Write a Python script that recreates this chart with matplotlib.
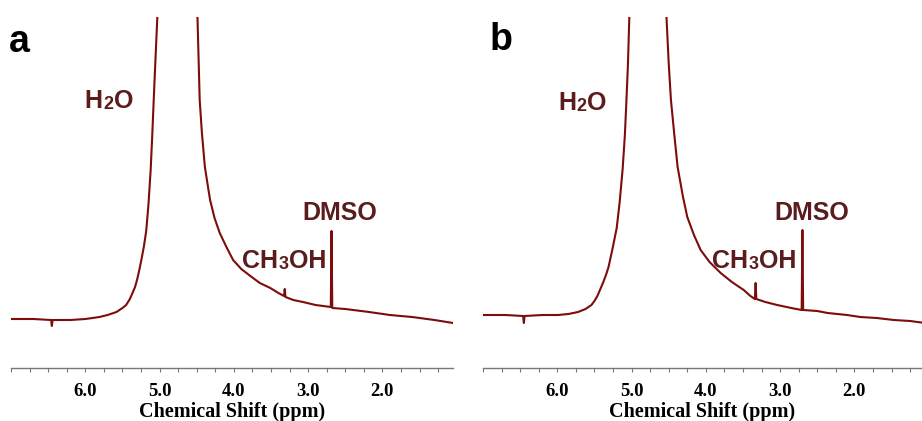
import matplotlib
matplotlib.use("Agg")
import matplotlib.pyplot as plt
from matplotlib.ticker import MultipleLocator

# read-off spectrum points: chemical shift (ppm) and intensity (arb. units, baseline near 50)
ppm_a = [7.00, 6.70, 6.46, 6.45, 6.44, 6.20, 6.00, 5.90, 5.81, 5.70, 5.58, 5.50, 5.45,
         5.40, 5.37, 5.33, 5.30, 5.27, 5.24, 5.21, 5.18, 5.15, 5.12, 5.10, 5.08, 5.055, 5.03,
         4.78,
         4.49, 4.475, 4.46, 4.43, 4.39, 4.35, 4.32, 4.26, 4.19, 4.10, 4.01, 3.90, 3.76,
         3.65, 3.51, 3.40, 3.325, 3.315, 3.305, 3.20, 3.07, 2.90, 2.695, 2.685, 2.675,
         2.50, 2.18, 1.90, 1.60, 1.30, 1.05]
int_a = [49, 49, 48, 42, 48, 48, 49, 50, 51, 53, 56, 60, 63,
         69, 74, 81, 89, 99, 110, 122, 137, 163, 198, 230, 266, 309, 351,
         5000,
         351, 310, 268, 235, 201, 182, 168, 150, 135, 121, 108, 99, 91,
         85, 80, 75, 72, 79, 71, 68, 66, 63, 61, 137, 60,
         59, 56, 53, 51, 48, 45]

ppm_b = [7.00, 6.70, 6.46, 6.45, 6.44, 6.20, 5.99, 5.85, 5.72, 5.62, 5.54, 5.50, 5.46,
         5.42, 5.38, 5.34, 5.31, 5.26, 5.20, 5.16, 5.12, 5.09, 5.07, 5.05, 5.03,
         4.78,
         4.53, 4.50, 4.47, 4.42, 4.38, 4.31, 4.25, 4.16, 4.07, 3.95, 3.80, 3.65, 3.49,
         3.40, 3.34, 3.33, 3.32, 3.20, 3.04, 2.85, 2.71, 2.70, 2.69, 2.50, 2.36, 2.10,
         1.92, 1.70, 1.47, 1.25, 1.05]
int_b = [53, 53, 52, 45, 52, 53, 53, 54, 56, 59, 63, 67, 72,
         79, 86, 94, 101, 118, 140, 166, 199, 233, 266, 301, 351,
         5000,
         351, 305, 268, 230, 201, 172, 151, 133, 118, 106, 95, 86, 78,
         72, 69, 85, 69, 66, 63, 60, 58, 138, 58, 57, 55, 53,
         51, 50, 48, 47, 45]

major_ticks = [6.0, 5.0, 4.0, 3.0, 2.0]
tick_labels = ["6.0", "5.0", "4.0", "3.0", "2.0"]
panel_letters = ["a", "b"]

# label anchors (ppm, intensity) for H2O, CH3OH, DMSO
h2o_pos = [(6.01, 260), (5.99, 258)]
ch3oh_pos = [(3.89, 100), (3.92, 100)]
dmso_pos = [(3.08, 148), (3.08, 148)]

line_color = "#7d0c0c"
text_color = "#5a1c1c"


def chem_label(ax, x, y, parts):
    """Draw a formula like H2O with a smaller digit, piece by piece."""
    prev = None
    for piece, small in parts:
        size = 13 if small else 18
        kw = dict(fontsize=size, fontweight="bold", color=text_color,
                  family="Liberation Sans", va="baseline", ha="left")
        if prev is None:
            prev = ax.text(x, y, piece, **kw)
        else:
            prev = ax.annotate(piece, xy=(1, 0), xycoords=prev,
                               xytext=(0.5, 0), textcoords="offset points",
                               **dict(kw, va="bottom"))
    return prev


fig = plt.figure(figsize=(9.22, 4.21), dpi=100)

ax_a = fig.add_axes([11 / 922, 1 - 368 / 421, 442 / 922, 351 / 421])
ax_b = fig.add_axes([483 / 922, 1 - 368 / 421, 439 / 922, 351 / 421])

panels = [(ax_a, ppm_a, int_a, (7.0, 1.05)), (ax_b, ppm_b, int_b, (7.0, 1.09))]

for i, (ax, x, y, xl) in enumerate(panels):
    ax.plot(x, y, color=line_color, linewidth=1.5, solid_joinstyle="round")
    ax.set_xlim(*xl)
    ax.set_ylim(0, 351)

    for side in ["top", "left", "right"]:
        ax.spines[side].set_visible(False)
    ax.spines["bottom"].set_color("#777777")
    ax.spines["bottom"].set_linewidth(1.0)
    ax.set_yticks([])

    ax.set_xticks(major_ticks)
    ax.set_xticklabels(tick_labels, fontsize=13.5, fontweight="bold",
                       family="Liberation Serif")
    ax.xaxis.set_minor_locator(MultipleLocator(0.25))
    ax.tick_params(axis="x", which="both", direction="out", length=3,
                   width=0.8, color="#777777", pad=8)
    ax.set_xlabel("Chemical Shift (ppm)", fontsize=14.5, fontweight="bold",
                  family="Liberation Serif", labelpad=1)

    chem_label(ax, *h2o_pos[i], [("H", False), ("2", True), ("O", False)])
    chem_label(ax, *ch3oh_pos[i], [("CH", False), ("3", True), ("OH", False)])
    chem_label(ax, *dmso_pos[i], [("DMSO", False)])

fig.text(9 / 922, 1 - 52 / 421, panel_letters[0], fontsize=27, fontweight="bold",
         family="Liberation Sans", color="black", va="baseline")
fig.text(490 / 922, 1 - 50 / 421, panel_letters[1], fontsize=27, fontweight="bold",
         family="Liberation Sans", color="black", va="baseline")

fig.savefig("out.png", dpi=100)
